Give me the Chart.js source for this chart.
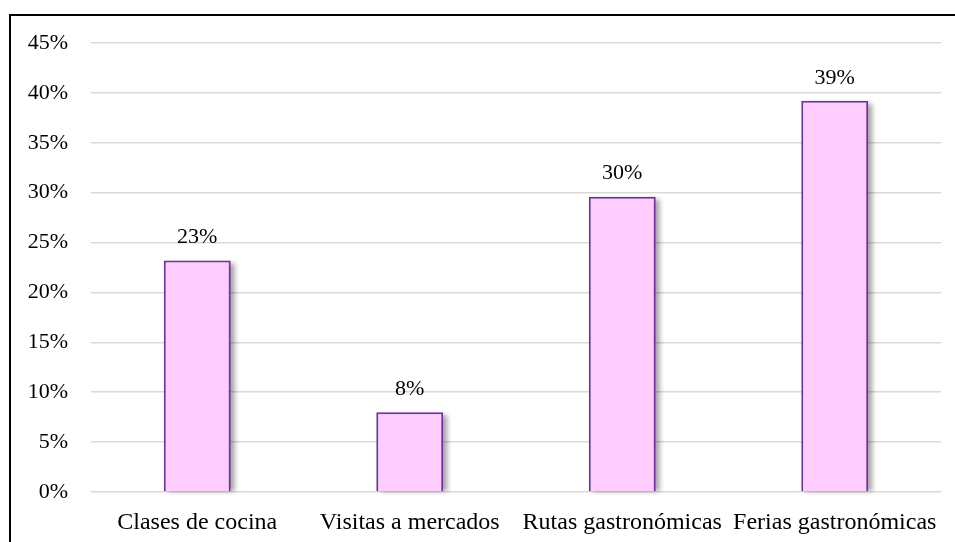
<!DOCTYPE html>
<html>
<head>
<meta charset="utf-8">
<script src="https://cdn.jsdelivr.net/npm/chart.js@4"></script>
<style>
html,body{margin:0;padding:0;background:#fff;}
#wrap{width:955px;height:542px;position:relative;}
</style>
</head>
<body>
<div id="wrap"><canvas id="c" width="955" height="542"></canvas></div>
<script>
const categories = ["Clases de cocina", "Visitas a mercados", "Rutas gastronómicas", "Ferias gastronómicas"];
const values = [23.2, 8.0, 29.6, 39.2];
const valueLabels = ["23%", "8%", "30%", "39%"];
const yTicks = [0, 5, 10, 15, 20, 25, 30, 35, 40, 45];

const FONT = "'Liberation Serif', 'Times New Roman', serif";
const FSIZE = 22;
const XSIZE = 24;

const shadowPlugin = {
  id: 'shadow',
  beforeDatasetsDraw(chart) {
    const ctx = chart.ctx;
    const meta = chart.getDatasetMeta(0);
    ctx.save();
    ctx.fillStyle = 'rgba(0,0,0,0.35)';
    ctx.filter = 'blur(2.5px)';
    meta.data.forEach(bar => {
      const w = bar.width;
      const left = bar.x - w / 2;
      ctx.fillRect(left + 4, bar.y + 3, w, bar.base - bar.y - 3);
    });
    ctx.restore();
  }
};

const labelPlugin = {
  id: 'vlabels',
  afterDatasetsDraw(chart) {
    const ctx = chart.ctx;
    const meta = chart.getDatasetMeta(0);
    ctx.save();
    ctx.fillStyle = '#000';
    ctx.font = FSIZE + 'px ' + FONT;
    ctx.textAlign = 'center';
    ctx.textBaseline = 'middle';
    meta.data.forEach((bar, i) => {
      ctx.fillText(valueLabels[i], bar.x, bar.y - 23);
    });
    ctx.restore();
  }
};

const framePlugin = {
  id: 'frame',
  afterDraw(chart) {
    const ctx = chart.ctx;
    ctx.save();
    ctx.strokeStyle = '#000';
    ctx.lineWidth = 2;
    ctx.beginPath();
    ctx.moveTo(10, 542);
    ctx.lineTo(10, 15);
    ctx.lineTo(955, 15);
    ctx.stroke();
    ctx.restore();
  }
};

new Chart(document.getElementById('c'), {
  type: 'bar',
  data: {
    labels: categories,
    datasets: [{
      data: values,
      backgroundColor: '#FFCCFF',
      borderColor: '#7030A0',
      borderWidth: 2,
      categoryPercentage: 0.315,
      barPercentage: 1.0
    }]
  },
  options: {
    responsive: false,
    animation: false,
    devicePixelRatio: 1,
    layout: { padding: { left: 0, top: 43, right: 14, bottom: 0 } },
    plugins: { legend: { display: false }, tooltip: { enabled: false } },
    scales: {
      x: {
        grid: { display: false, drawTicks: false },
        border: { display: false },
        ticks: { color: '#000', font: { family: FONT, size: XSIZE }, padding: 16, maxRotation: 0, autoSkip: false },
        afterFit(s) { s.height = 50; }
      },
      y: {
        min: 0, max: 45,
        afterBuildTicks(s) { s.ticks = yTicks.map(v => ({ value: v })); },
        grid: { color: '#D9D9D9', lineWidth: 1.5, drawTicks: false },
        border: { display: false },
        ticks: { color: '#000', font: { family: FONT, size: FSIZE }, padding: 23, callback: v => v + '%' },
        afterFit(s) { s.width = 91; }
      }
    }
  },
  plugins: [shadowPlugin, labelPlugin, framePlugin]
});
</script>
</body>
</html>
